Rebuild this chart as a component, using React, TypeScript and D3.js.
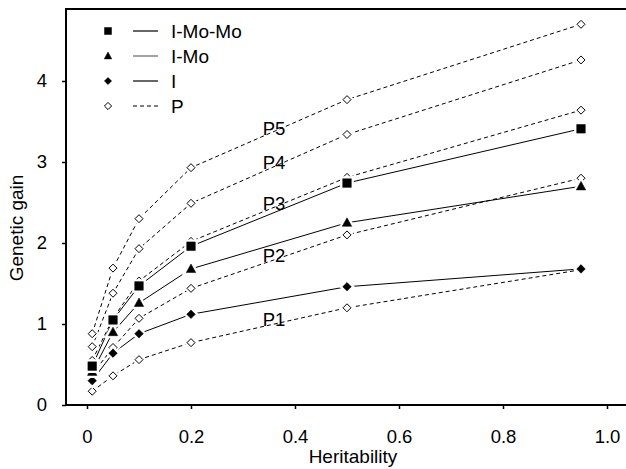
import React, { useEffect, useRef } from "react";
import * as d3 from "d3";

// heritability levels on the x axis
const heritability = [0.01, 0.05, 0.1, 0.2, 0.5, 0.95];

// selection schemes (solid lines)
const iMoMo = [0.48, 1.05, 1.47, 1.96, 2.74, 3.41];
const iMo = [0.41, 0.9, 1.26, 1.68, 2.25, 2.7];
const iOnly = [0.3, 0.64, 0.88, 1.12, 1.46, 1.68];

// phenotypic selection (dashed lines)
const p1 = [0.17, 0.36, 0.56, 0.77, 1.2, 1.67];
const p2 = [0.38, 0.71, 1.07, 1.44, 2.1, 2.8];
const p3 = [0.55, 1.07, 1.53, 2.02, 2.81, 3.64];
const p4 = [0.72, 1.38, 1.93, 2.49, 3.34, 4.26];
const p5 = [0.88, 1.69, 2.3, 2.93, 3.77, 4.7];

const pNames = ["P1", "P2", "P3", "P4", "P5"];
const pLabelPos = [1.06, 1.85, 2.49, 3.0, 3.42];
const pLabelX = 0.338;

const xTicks = [0, 0.2, 0.4, 0.6, 0.8, 1.0];
const xTickLabels = ["0", "0.2", "0.4", "0.6", "0.8", "1.0"];
const yTicks = [0, 1, 2, 3, 4];

const legendNames = ["I-Mo-Mo", "I-Mo", "I", "P"];

const WIDTH = 626;
const HEIGHT = 469;
const FONT = "'Liberation Sans', Arial, Helvetica, sans-serif";

const diamond = (r: number) => `M0,${-r}L${r},0L0,${r}L${-r},0Z`;
const square = (r: number) => `M${-r},${-r}H${r}V${r}H${-r}Z`;
const triangle = (r: number) => `M0,${-r * 1.1}L${r * 1.05},${r * 0.8}L${-r * 1.05},${r * 0.8}Z`;

export default function App() {
  const ref = useRef<SVGSVGElement>(null);

  useEffect(() => {
    const svg = d3.select(ref.current);
    svg.selectAll("*").remove();

    const x = d3.scaleLinear().domain([0, 1]).range([87, 607]);
    const y = d3.scaleLinear().domain([0, 4]).range([405, 81]);
    const left = 66, right = WIDTH, top = 9, bottom = 405;

    // y axis
    const yAxis = svg.append("g")
      .attr("transform", `translate(${left},0)`)
      .call(d3.axisLeft(y).tickValues(yTicks).tickFormat(d3.format("d")).tickSize(4).tickPadding(15));
    yAxis.select(".domain").remove();

    // x axis
    const xAxis = svg.append("g")
      .attr("transform", `translate(0,${bottom})`)
      .call(d3.axisBottom(x).tickValues(xTicks)
        .tickFormat((d, i) => xTickLabels[i]).tickSize(4).tickPadding(21));
    xAxis.select(".domain").remove();

    svg.selectAll(".tick text")
      .attr("font-family", FONT)
      .attr("font-size", 18.5)
      .attr("fill", "#000");
    svg.selectAll(".tick line").attr("stroke", "#000").attr("stroke-width", 1.5);

    // frame
    svg.append("path")
      .attr("d", `M${right},${top}H${left}V${bottom}H${right}`)
      .attr("fill", "none")
      .attr("stroke", "#000")
      .attr("stroke-width", 2);

    const line = d3.line<number>()
      .x((d, i) => x(heritability[i]))
      .y(d => y(d));

    // dashed P lines
    [p1, p2, p3, p4, p5].forEach(s => {
      svg.append("path")
        .attr("d", line(s))
        .attr("fill", "none")
        .attr("stroke", "#000")
        .attr("stroke-width", 1)
        .attr("stroke-dasharray", "4,3");
    });

    // solid lines
    [iMoMo, iMo, iOnly].forEach(s => {
      svg.append("path")
        .attr("d", line(s))
        .attr("fill", "none")
        .attr("stroke", "#000")
        .attr("stroke-width", 1);
    });

    // markers with a white halo that breaks the lines
    const markers = (s: number[], shape: string, filled: boolean) => {
      const g = svg.append("g");
      s.forEach((v, i) => {
        const t = `translate(${x(heritability[i])},${y(v)})`;
        g.append("path").attr("d", shape).attr("transform", t)
          .attr("fill", "#fff").attr("stroke", "#fff").attr("stroke-width", 5);
        g.append("path").attr("d", shape).attr("transform", t)
          .attr("fill", filled ? "#000" : "#fff")
          .attr("stroke", "#000").attr("stroke-width", filled ? 0.5 : 1);
      });
    };
    [p1, p2, p3, p4, p5].forEach(s => markers(s, diamond(4), false));
    markers(iOnly, diamond(4.3), true);
    markers(iMo, triangle(4.5), true);
    markers(iMoMo, square(4.3), true);

    // P labels
    pNames.forEach((name, i) => {
      svg.append("text")
        .attr("x", x(pLabelX))
        .attr("y", y(pLabelPos[i]))
        .attr("dy", "0.36em")
        .attr("font-family", FONT)
        .attr("font-size", 18.5)
        .text(name);
    });

    // legend
    const legendShapes = [square(3.5), triangle(3.6), diamond(3.6), diamond(3.6)];
    const legendFilled = [true, true, true, false];
    const legendStroke = ["#000", "#666", "#000", "#000"];
    legendNames.forEach((name, i) => {
      const ly = 31 + i * 25;
      svg.append("path")
        .attr("d", legendShapes[i])
        .attr("transform", `translate(108,${ly})`)
        .attr("fill", legendFilled[i] ? "#000" : "#fff")
        .attr("stroke", "#000")
        .attr("stroke-width", legendFilled[i] ? 0.5 : 1);
      svg.append("line")
        .attr("x1", 133).attr("x2", 158)
        .attr("y1", ly).attr("y2", ly)
        .attr("stroke", legendStroke[i])
        .attr("stroke-width", 1.2)
        .attr("stroke-dasharray", i === 3 ? "4,3" : null);
      svg.append("text")
        .attr("x", 171)
        .attr("y", ly)
        .attr("dy", "0.36em")
        .attr("font-family", FONT)
        .attr("font-size", 19)
        .text(name);
    });

    // axis titles
    svg.append("text")
      .attr("x", 353)
      .attr("y", 463)
      .attr("text-anchor", "middle")
      .attr("font-family", FONT)
      .attr("font-size", 19)
      .text("Heritability");

    svg.append("text")
      .attr("transform", "translate(23,228) rotate(-90)")
      .attr("text-anchor", "middle")
      .attr("font-family", FONT)
      .attr("font-size", 19)
      .text("Genetic gain");
  }, []);

  return (
    <svg
      ref={ref}
      width={WIDTH}
      height={HEIGHT}
      style={{ position: "absolute", left: 0, top: 0, background: "#fff" }}
    />
  );
}
